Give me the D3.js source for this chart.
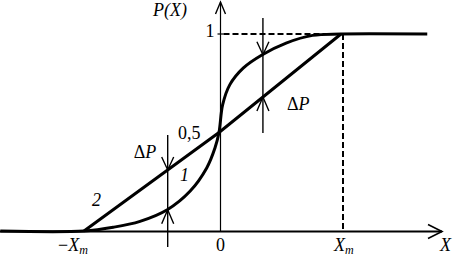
<!DOCTYPE html>
<html><head><meta charset="utf-8">
<script src="https://cdn.jsdelivr.net/npm/d3@7"></script>
<style>
html,body{margin:0;padding:0;background:#fff;}
svg{display:block;}
text{font-family:"Liberation Serif","Times New Roman",serif;font-size:18px;fill:#000;}
</style></head>
<body>
<svg id="c" width="454" height="257"></svg>
<script>
// Curve 1: x in units of Xm, P(X)
const curve1X = [-1.62, -1.0, -0.783, -0.585, -0.383, -0.215, -0.091, -0.030, 0.0, 0.03, 0.089, 0.198, 0.355, 0.55, 0.767, 1.0, 1.707];
const curve1P = [0, 0, 0.019, 0.049, 0.108, 0.2015, 0.32, 0.421, 0.5, 0.641, 0.743, 0.827, 0.895, 0.954, 0.993, 1, 1];
// Curve 2: straight line
const curve2X = [-1, 0, 1];
const curve2P = [0, 0.5, 1];
// ΔP markers
const deltaX = [-0.38, 0.36];
const deltaLow = [0.108, 0.68];   // lower arrow tip
const deltaHigh = [0.31, 0.895];  // upper arrow tip
const deltaSpan = [[-0.081, 0.487], [0.497, 1.081]];
// tick labels
const xTickVals = [-1, 0, 1];
const xTickLabels = ["−X", "0", "X"];
const xTickSubs = ["m", "", "m"];
const yTickVals = [0.5, 1];
const yTickLabels = ["0,5", "1"];

const svg = d3.select("#c");
const FONT = '"Liberation Serif","Times New Roman",serif';
const x = d3.scaleLinear().domain([-1, 0, 1]).range([84, 219, 341]);
const y = d3.scaleLinear().domain([0, 1]).range([231, 34]);
const x0 = x(0) + 1.5;

// axes
svg.append("line").attr("x1", 0).attr("x2", 442).attr("y1", y(0) + 0.5).attr("y2", y(0) + 0.5)
  .attr("stroke", "#000").attr("stroke-width", 2);
svg.append("path").attr("d", `M428,${y(0)-6.5}L442,${y(0)+0.5}L428,${y(0)+7.5}`)
  .attr("fill", "none").attr("stroke", "#000").attr("stroke-width", 1.6);
svg.append("line").attr("x1", x0).attr("x2", x0).attr("y1", 2).attr("y2", y(0))
  .attr("stroke", "#000").attr("stroke-width", 1.2);
svg.append("path").attr("d", `M${x0-5},14L${x0},2L${x0+5},14`)
  .attr("fill", "none").attr("stroke", "#000").attr("stroke-width", 1.4);
// tick at 1
svg.append("line").attr("x1", x0 - 3).attr("x2", x0 + 3).attr("y1", y(1)).attr("y2", y(1))
  .attr("stroke", "#000").attr("stroke-width", 1.2);

// dashed guides
svg.append("line").attr("x1", x0 + 3).attr("x2", x(1)).attr("y1", y(1)).attr("y2", y(1))
  .attr("stroke", "#000").attr("stroke-width", 2).attr("stroke-dasharray", "6,3");
svg.append("line").attr("x1", x(1) + 2).attr("x2", x(1) + 2).attr("y1", y(1)).attr("y2", y(0))
  .attr("stroke", "#000").attr("stroke-width", 2).attr("stroke-dasharray", "6,3");

// curves
const line = d3.line().x(d => x(d[0])).y(d => y(d[1]));
svg.append("path").datum(curve2X.map((v, i) => [v, curve2P[i]]))
  .attr("d", line).attr("fill", "none").attr("stroke", "#000").attr("stroke-width", 3);
svg.append("path").datum(curve1X.map((v, i) => [v, curve1P[i]]))
  .attr("d", line.curve(d3.curveCatmullRom.alpha(0.5))).attr("fill", "none")
  .attr("stroke", "#000").attr("stroke-width", 3).attr("stroke-linejoin", "round");

// ΔP markers
deltaX.forEach((dx, i) => {
  const px = x(dx);
  svg.append("line").attr("x1", px).attr("x2", px)
    .attr("y1", y(deltaSpan[i][1])).attr("y2", y(deltaSpan[i][0]))
    .attr("stroke", "#000").attr("stroke-width", 1.4);
  const ht = y(deltaHigh[i]), lt = y(deltaLow[i]);
  const top = Math.min(ht, lt), bot = Math.max(ht, lt);
  svg.append("path").attr("d", `M${px-6},${top-13}L${px},${top}L${px+6},${top-13}`)
    .attr("fill", "none").attr("stroke", "#000").attr("stroke-width", 1.4);
  svg.append("path").attr("d", `M${px-6},${bot+14}L${px},${bot}L${px+6},${bot+14}`)
    .attr("fill", "none").attr("stroke", "#000").attr("stroke-width", 1.4);
});

// texts
function txt(tx, ty) {
  return svg.append("text").attr("x", tx).attr("y", ty)
    .attr("font-family", FONT).attr("font-size", 18);
}
function dP(tx, ty) {
  const t = txt(tx, ty);
  t.append("tspan").text("Δ");
  t.append("tspan").attr("font-style", "italic").text("P");
}
dP(x(deltaX[0]) - 34, y(deltaHigh[0]) - 12);
dP(x(deltaX[1]) + 24, y(deltaLow[1]) + 13);

txt(153, 16).attr("font-style", "italic").text("P(X)");

txt(x0 - 6, y(yTickVals[1]) + 3).attr("text-anchor", "end").text(yTickLabels[1]);
txt(x0 - 20, y(yTickVals[0]) + 6).attr("text-anchor", "end").text(yTickLabels[0]);

txt(180, 181).attr("font-style", "italic").text("1");
txt(92, 206).attr("font-style", "italic").text("2");

xTickVals.forEach((v, i) => {
  const t = txt(0, 251);
  if (i === 0) {
    t.attr("x", x(v) - 26);
    t.append("tspan").text("−");
    t.append("tspan").attr("font-style", "italic").text("X");
  } else if (i === 1) {
    t.attr("x", x(v) + 1.5).attr("text-anchor", "middle").text(xTickLabels[i]);
  } else {
    t.attr("x", x(v) - 7);
    t.append("tspan").attr("font-style", "italic").text("X");
  }
  if (xTickSubs[i]) t.append("tspan").attr("font-style", "italic").attr("font-size", 12).attr("dy", 3).text(xTickSubs[i]);
});
txt(440, 251).attr("font-style", "italic").text("X");
</script>
</body></html>
